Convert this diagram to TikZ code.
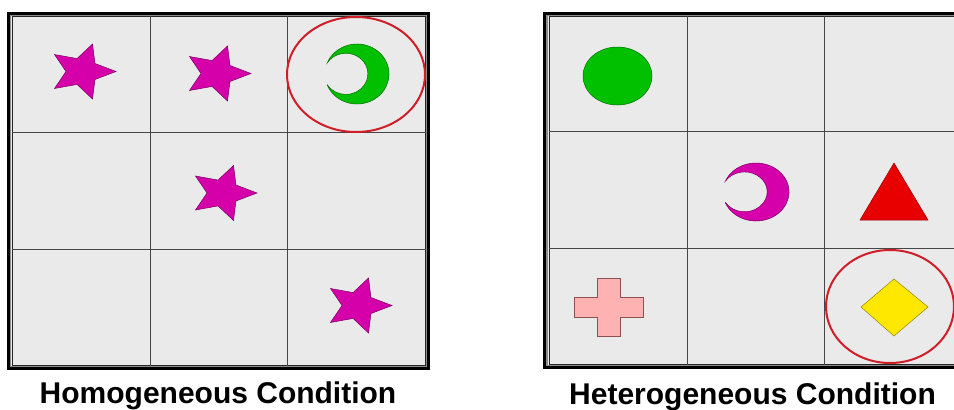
\documentclass[tikz,border=0pt]{standalone}
\usepackage{fontspec}
\setmainfont{Liberation Sans}
\definecolor{cellgray}{RGB}{234,234,234}
\definecolor{gridc}{RGB}{70,70,70}
\definecolor{magf}{RGB}{214,0,170}
\definecolor{magd}{RGB}{120,0,95}
\definecolor{grnf}{RGB}{0,192,0}
\definecolor{grnd}{RGB}{0,110,0}
\definecolor{redf}{RGB}{232,0,0}
\definecolor{redd}{RGB}{150,0,0}
\definecolor{yelf}{RGB}{255,232,0}
\definecolor{yeld}{RGB}{150,130,0}
\definecolor{pinkf}{RGB}{255,178,178}
\definecolor{pinkd}{RGB}{140,80,80}
\definecolor{ringc}{RGB}{208,30,40}
\tikzset{
  gridline/.style={draw=gridc, line width=0.8pt},
  outerframe/.style={draw=black, line width=3pt},
  midframe/.style={draw=black!45, line width=1.2pt},
  innerframe/.style={draw=black!85, line width=0.8pt},
  ring/.style={draw=ringc, line width=2pt},
  shapeline/.style={line width=0.5pt},
  label/.style={font=\bfseries\fontsize{30}{36}\selectfont, anchor=base, inner sep=0pt},
  pics/starpic/.style={code={
    \path[fill=magf, draw=magd, shapeline, yscale=0.85]
      (0:34) -- (36:16) -- (72:34) -- (108:16) -- (144:34) -- (180:16)
      -- (216:34) -- (252:16) -- (288:34) -- (324:16) -- cycle;
  }},
  pics/moonpic/.style={code={
    \path[shapeline, pic actions]
      (158:1) arc[start angle=158, end angle=-158, radius=1]
      arc[start angle=-147.5, end angle=147.5, radius=0.687] -- cycle;
  }}
}
\begin{document}
\begin{tikzpicture}[x=1pt,y=-1pt]
\clip (0,0) rectangle (954,410);
\fill[white] (0,0) rectangle (954,410);

% ---------- left panel ----------
\fill[cellgray] (9,14) rectangle (428,368);
\draw[outerframe] (8.3,13.3) rectangle (428.7,368.7);
\draw[midframe] (10.8,15.4) rectangle (426.4,366.4);
\draw[innerframe] (12.3,16) rectangle (425.5,365.8);
\draw[gridline] (150,16) -- (150,366);
\draw[gridline] (287,16) -- (287,366);
\draw[gridline] (12,132) -- (426,132);
\draw[gridline] (12,249) -- (426,249);

\pic at (82,71.5) {starpic};
\pic at (217,73.5) {starpic};
\pic at (223,193) {starpic};
\pic at (358,305.5) {starpic};
\pic[fill=grnf, draw=grnd, xscale=32, yscale=30] at (357,74) {moonpic};
\draw[ring] (356,74.5) ellipse[x radius=69, y radius=57.5];

% ---------- right panel ----------
\fill[cellgray] (545,14) rectangle (970,366);
\draw[outerframe] (544.3,13.3) rectangle (970,367.7);
\draw[midframe] (546.9,15.4) rectangle (968,365.4);
\draw[innerframe] (549,16) rectangle (966,364.5);
\draw[gridline] (687,16) -- (687,364.5);
\draw[gridline] (824,16) -- (824,364.5);
\draw[gridline] (549,131) -- (966,131);
\draw[gridline] (549,248) -- (966,248);

\path[fill=grnf, draw=grnd, shapeline] (617.5,76) ellipse[x radius=34.5, y radius=29];
\pic[fill=magf, draw=magd, xscale=33, yscale=29] at (756,192) {moonpic};
\path[fill=redf, draw=redd, shapeline] (894,163) -- (928,220) -- (860,220) -- cycle;
\path[fill=pinkf, draw=pinkd, shapeline]
  (597,278) -- (620,278) -- (620,297) -- (643,297) -- (643,317) -- (620,317)
  -- (620,336) -- (597,336) -- (597,317) -- (574,317) -- (574,297) -- (597,297) -- cycle;
\path[fill=yelf, draw=yeld, shapeline] (861,307) -- (894,279) -- (928,307) -- (894,336) -- cycle;
\draw[ring] (890,306.5) ellipse[x radius=64, y radius=56.5];

% ---------- labels ----------
\node[label] (homo) at (218,403) {Homogeneous Condition};
\node[label] (hetero) at (752.5,404) {Heterogeneous Condition};
\end{tikzpicture}
\end{document}
